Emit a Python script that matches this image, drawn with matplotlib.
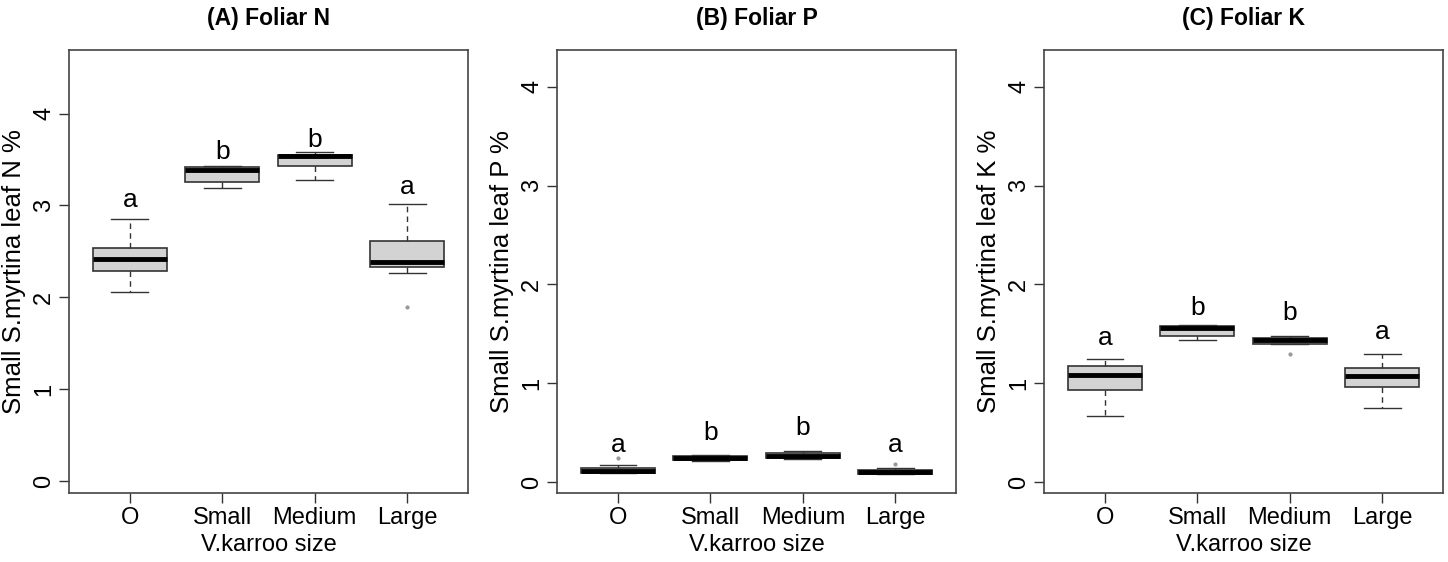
import matplotlib
matplotlib.use('Agg')
import matplotlib.pyplot as plt

plt.rcParams['font.family'] = ['Liberation Sans', 'DejaVu Sans']

sizes = ['O', 'Small', 'Medium', 'Large']

# box stats: (whisker low, Q1, median, Q3, whisker high)
n_stats = [(2.06, 2.29, 2.42, 2.54, 2.85),
           (3.19, 3.25, 3.38, 3.42, 3.43),
           (3.28, 3.43, 3.54, 3.55, 3.58),
           (2.26, 2.33, 2.38, 2.61, 3.01)]
n_fliers = [[], [], [], [1.89]]
n_letters = ['a', 'b', 'b', 'a']
n_letter_y = [2.98, 3.51, 3.64, 3.12]

p_stats = [(0.09, 0.095, 0.117, 0.14, 0.177),
           (0.215, 0.224, 0.243, 0.26, 0.275),
           (0.235, 0.24, 0.268, 0.29, 0.315),
           (0.08, 0.087, 0.10, 0.123, 0.138)]
p_fliers = [[0.246], [], [], [0.188]]
p_letters = ['a', 'b', 'b', 'a']
p_letter_y = [0.30, 0.43, 0.48, 0.30]

k_stats = [(0.665, 0.93, 1.08, 1.17, 1.245),
           (1.44, 1.48, 1.555, 1.58, 1.59),
           (1.40, 1.40, 1.44, 1.455, 1.48),
           (0.75, 0.96, 1.07, 1.15, 1.30)]
k_fliers = [[], [], [1.30], []]
k_letters = ['a', 'b', 'b', 'a']
k_letter_y = [1.39, 1.69, 1.64, 1.45]

panels = [
    ('(A) Foliar N', 'Small S.myrtina leaf N %', n_stats, n_fliers, n_letters, n_letter_y, (-0.13, 4.69), 0.04765),
    ('(B) Foliar P', 'Small S.myrtina leaf P %', p_stats, p_fliers, p_letters, p_letter_y, (-0.11, 4.37), 0.3847),
    ('(C) Foliar K', 'Small S.myrtina leaf K %', k_stats, k_fliers, k_letters, k_letter_y, (-0.11, 4.37), 0.721),
]

fig = plt.figure(figsize=(14.48, 5.62), dpi=100)

for title, ylab, stats, fliers, letters, letter_y, ylim, left in panels:
    ax = fig.add_axes([left, 0.1228, 0.2756, 0.788])
    bxp_stats = []
    for (lo, q1, med, q3, hi), fl in zip(stats, fliers):
        bxp_stats.append(dict(whislo=lo, q1=q1, med=med, q3=q3, whishi=hi, fliers=fl))
    ax.bxp(bxp_stats, positions=[1, 2, 3, 4], widths=0.8, patch_artist=True,
           boxprops=dict(facecolor='#d3d3d3', edgecolor='#333333', linewidth=1.2),
           medianprops=dict(color='black', linewidth=3.5, solid_capstyle='butt'),
           whiskerprops=dict(color='#333333', linewidth=1.0, linestyle=(0, (4, 3))),
           capprops=dict(color='#333333', linewidth=1.0),
           capwidths=0.4,
           flierprops=dict(marker='o', markersize=2, markerfacecolor='#999999',
                           markeredgecolor='#999999'))
    for i, (lt, ly) in enumerate(zip(letters, letter_y)):
        ax.text(i + 1, ly, lt, ha='center', va='baseline', fontsize=19)

    ax.set_xlim(0.34, 4.66)
    ax.set_ylim(*ylim)
    ax.set_xticks([1, 2, 3, 4])
    ax.set_xticklabels(sizes)
    ax.set_yticks([0, 1, 2, 3, 4])
    ax.set_yticklabels(['0', '1', '2', '3', '4'], rotation=90, va='center')
    ax.tick_params(axis='both', labelsize=17, length=7, width=1.0, color='#333333', pad=3)
    for sp in ax.spines.values():
        sp.set_color('#444444')
        sp.set_linewidth(1.2)
    ax.set_title(title, fontsize=16.5, fontweight='bold', pad=18)
    ax.set_xlabel('V.karroo size', fontsize=17)
    ax.xaxis.set_label_coords(0.5, -0.092)
    ax.set_ylabel(ylab, fontsize=18.5)
    ax.yaxis.set_label_coords(-0.107, 0.5)

fig.savefig('out.png', dpi=100)
